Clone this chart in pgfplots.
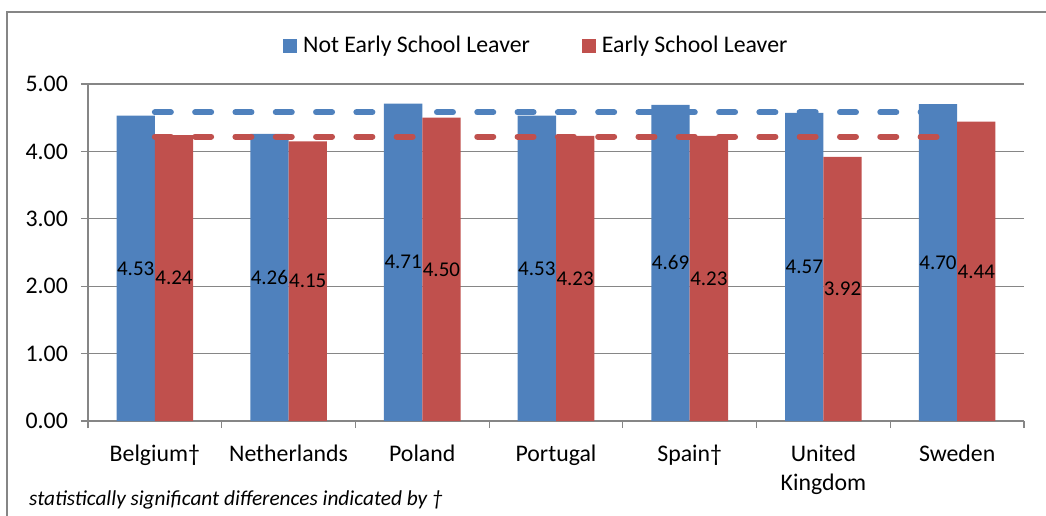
\documentclass[border=0pt]{standalone}
\usepackage{fontspec}
\setmainfont{Carlito}
\usepackage{pgfplots}
\pgfplotsset{compat=1.18}
\definecolor{barblue}{HTML}{4F81BD}
\definecolor{barred}{HTML}{C0504D}
\definecolor{axgray}{HTML}{868686}
\begin{document}
\fontsize{23.8}{28.5}\selectfont
\begin{tikzpicture}
\useasboundingbox (-88pt,-95pt) rectangle (958pt,421pt);
\draw[axgray, line width=1.2pt] (-81pt,-140pt) rectangle (1100pt,409pt);
\begin{axis}[
  at={(0pt,0pt)}, anchor=south west,
  width=936pt, height=337pt, scale only axis,
  ybar=0pt, bar width=38.3pt,
  xmin=-0.5, xmax=6.5, ymin=0, ymax=5,
  axis x line*=bottom, axis y line*=left,
  axis line style={axgray, line width=1.2pt, -},
  xtick={0,...,6},
  xticklabels={Belgium†, Netherlands, Poland, Portugal, Spain†, {United\\Kingdom}, Sweden},
  xticklabel style={align=center, anchor=north, yshift=-9pt},
  major x tick style={draw=none},
  minor xtick={-0.5,0.5,...,6.5},
  minor x tick style={axgray, line width=1.2pt},
  minor tick length=7pt,
  major tick length=7pt,
  tick align=outside,
  ytick={0,1,...,5},
  y tick style={axgray, line width=1.2pt},
  ymajorgrids, major grid style={axgray, line width=1.2pt},
  /pgf/number format/fixed,
  /pgf/number format/fixed zerofill,
  /pgf/number format/precision=2,
  /pgf/number format/assume math mode=true,
  yticklabel style={xshift=-5pt},
  legend style={at={(axis description cs:0.2083,1.113)}, anchor=west, draw=none, fill=none,
    inner sep=0pt, legend columns=2, nodes={inner sep=0pt, anchor=west},
    /tikz/every odd column/.append style={column sep=6pt},
    /tikz/every even column/.append style={column sep=52pt}},
  legend image code/.code={\fill[#1] (0pt,-7pt) rectangle (14pt,7pt);},
  nodes near coords={\pgfmathprintnumber{\pgfplotspointmeta}},
  visualization depends on=y \as \rawy,
  every node near coord/.append style={anchor=center, font=\fontsize{21}{25}\selectfont, text=black,
    shift={(axis direction cs:0,-\rawy/2)}},
  clip=false,
]
\addplot[fill=barblue, draw=none] coordinates {(0,4.53) (1,4.26) (2,4.71) (3,4.53) (4,4.69) (5,4.57) (6,4.70)};
\addlegendentry{Not Early School Leaver}
\addplot[fill=barred, draw=none] coordinates {(0,4.24) (1,4.15) (2,4.50) (3,4.23) (4,4.23) (5,3.92) (6,4.44)};
\addlegendentry{Early School Leaver}
\addplot[sharp plot, no markers, nodes near coords={}, barblue, line width=6pt, line cap=round, dash pattern=on 16pt off 24.3pt, forget plot] coordinates {(0,4.58) (6,4.58)};
\addplot[sharp plot, no markers, nodes near coords={}, barred, line width=6pt, line cap=round, dash pattern=on 16pt off 24.3pt, forget plot] coordinates {(0,4.22) (6,4.22)};
\end{axis}
\node[anchor=west, inner sep=0pt, font=\fontsize{21.3}{26}\selectfont\itshape] at (-59pt,-79pt) {statistically significant differences indicated by †};
\end{tikzpicture}
\end{document}
